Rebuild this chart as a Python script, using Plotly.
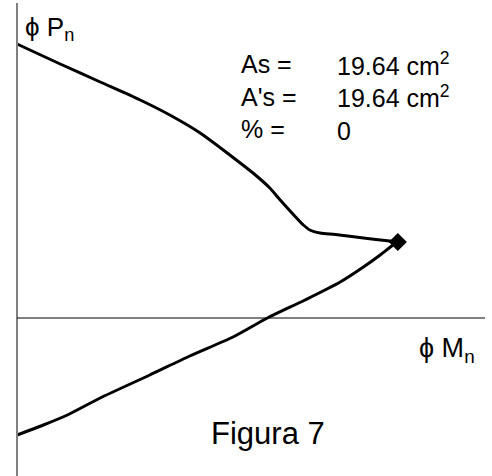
import plotly.graph_objects as go

# Interaction diagram: design axial load vs design moment
# Upper branch (compression-controlled), from pure axial load to the balanced point
mn_upper = [0.0, 5.4, 10.4, 15.4, 19.1, 22.9, 26.6, 29.8, 31.6, 32.9, 34.6, 35.8, 36.6, 37.9, 39.8, 43.3, 46.6, 47.6]
pn_upper = [219.2, 203.2, 188.8, 174.4, 162.4, 148.0, 130.4, 114.4, 104.0, 94.4, 82.4, 74.4, 70.4, 68.0, 66.8, 64.0, 61.6, 60.8]

# Lower branch (tension-controlled), from the balanced point to pure tension
mn_lower = [47.6, 47.0, 45.4, 43.3, 40.4, 36.0, 31.3, 27.0, 21.6, 16.6, 10.4, 6.3, 3.3, 0.0]
pn_lower = [60.8, 58.4, 50.4, 40.8, 28.8, 14.4, 0.0, -15.2, -30.4, -45.6, -64.0, -77.6, -85.6, -93.6]

# Balanced point
mn_bal = [47.6]
pn_bal = [60.8]

steel_labels = ["As =", "A's =", "% ="]
steel_values = ["19.64 cm<sup>2</sup>", "19.64 cm<sup>2</sup>", "0"]

W, H = 492, 476
x_range = [-2.125, 59.375]
y_range = [-126.4, 254.4]

fig = go.Figure()
for xs, ys in ((mn_upper, pn_upper), (mn_lower, pn_lower)):
    fig.add_trace(go.Scatter(x=xs, y=ys, mode="lines",
                             line=dict(color="black", width=3, shape="spline", smoothing=0.7),
                             hoverinfo="skip", showlegend=False))
fig.add_trace(go.Scatter(x=mn_bal, y=pn_bal, mode="markers",
                         marker=dict(symbol="diamond", size=14, color="black"),
                         showlegend=False))

font = "Liberation Sans, Arial, sans-serif"

shapes = [
    # vertical (Pn) axis
    dict(type="line", xref="x", yref="y", x0=0, x1=0, y0=y_range[0], y1=252.0,
         line=dict(color="#808080", width=2)),
    # horizontal (Mn) axis
    dict(type="line", xref="x", yref="y", x0=0, x1=58.5, y0=0, y1=0,
         line=dict(color="black", width=1)),
]

def px(xp, yp):
    return xp / W, 1 - yp / H

annotations = []
ax, ay = px(23, 28)
annotations.append(dict(x=ax, y=ay, xref="paper", yref="paper", xanchor="left", yanchor="middle",
                        text="ϕ P<sub>n</sub>", showarrow=False, font=dict(family=font, size=26, color="black")))
ax, ay = px(417, 350)
annotations.append(dict(x=ax, y=ay, xref="paper", yref="paper", xanchor="left", yanchor="middle",
                        text="ϕ M<sub>n</sub>", showarrow=False, font=dict(family=font, size=27, color="black")))
ax, ay = px(268, 433)
annotations.append(dict(x=ax, y=ay, xref="paper", yref="paper", xanchor="center", yanchor="middle",
                        text="Figura 7", showarrow=False, font=dict(family=font, size=31, color="black")))

# reinforcement summary block: labels column and values column
ax, ay = px(239, 97)
annotations.append(dict(x=ax, y=ay, xref="paper", yref="paper", xanchor="left", yanchor="middle",
                        align="left", text="<br>".join(steel_labels), showarrow=False,
                        font=dict(family=font, size=25, color="black")))
ax, ay = px(335, 97)
annotations.append(dict(x=ax, y=ay, xref="paper", yref="paper", xanchor="left", yanchor="middle",
                        align="left", text="<br>".join(steel_values), showarrow=False,
                        font=dict(family=font, size=25, color="black")))

fig.update_layout(
    width=W, height=H,
    margin=dict(l=0, r=0, t=0, b=0),
    paper_bgcolor="white", plot_bgcolor="white",
    xaxis=dict(range=x_range, visible=False, fixedrange=True),
    yaxis=dict(range=y_range, visible=False, fixedrange=True),
    shapes=shapes, annotations=annotations,
)

fig.write_html("out.html", config={"displayModeBar": False})
